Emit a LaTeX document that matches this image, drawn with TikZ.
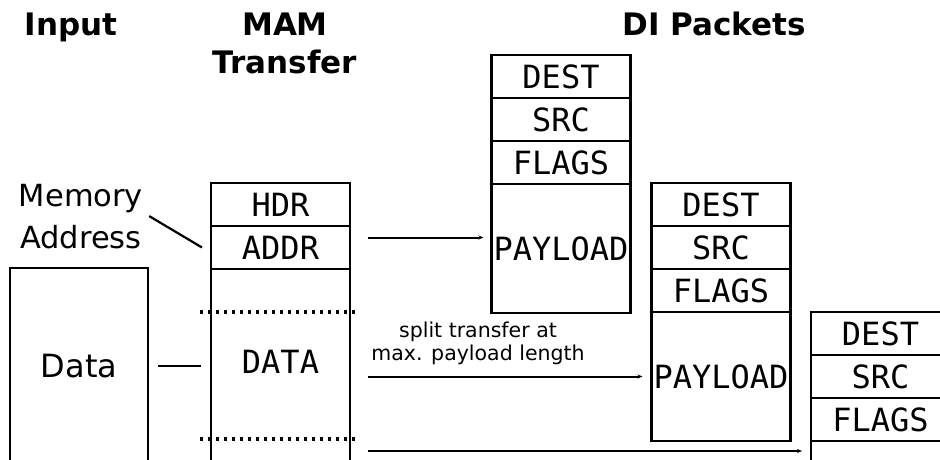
\documentclass[tikz,border=0pt]{standalone}
\usepackage{fontspec}
\setmainfont{DejaVu Sans}
\newfontfamily\monof{DejaVu Sans Mono}
\usetikzlibrary{arrows.meta,positioning,calc}
\begin{document}
\begin{tikzpicture}[x=1pt,y=-1pt,
  line/.style={line width=2.2pt},
  arr/.style={line width=2pt,-{Stealth[length=5pt,width=4pt]}},
  cell/.style={draw,line width=2.2pt,minimum width=139pt,minimum height=43pt,inner sep=0pt,outer sep=0pt,font=\monof\fontsize{32}{37}\selectfont},
  hdr/.style={font=\bfseries\fontsize{31}{38}\selectfont,align=center,inner sep=0pt,anchor=base},
  lbl/.style={font=\fontsize{30.5}{42}\selectfont,align=center,inner sep=0pt},
  small/.style={font=\fontsize{20.5}{22.5}\selectfont,align=center,inner sep=0pt,anchor=base},
  dotline/.style={line width=3.5pt,dash pattern=on 3pt off 5pt}]
\clip (0,0) rectangle (940,459);
% headers
\node[hdr] (hin) at (71,35) {Input};
\node[hdr] (hmam) at (285,73) {MAM\\Transfer};
\node[hdr] (hdi) at (714,35) {DI Packets};
% input
\node[lbl,anchor=base] (memtxt) at (81,248) {Memory\\Address};
\node[draw,line,lbl,font=\fontsize{32}{40}\selectfont,minimum width=138pt,minimum height=196pt,inner sep=0pt,outer sep=0pt] (datain) at (79,366) {Data};
% MAM transfer
\node[cell] (hdrc) at (280.5,204.5) {HDR};
\node[cell,below=0pt of hdrc] (addr) {ADDR};
\node[draw,line,minimum width=139pt,minimum height=200pt,inner sep=0pt,outer sep=0pt,anchor=north] (mamcol) at (addr.south) {};
\node[font=\monof\fontsize{32}{37}\selectfont,inner sep=0pt] (datatxt) at (280.5,362) {DATA};
\draw[dotline] ($(mamcol.north west)+(-11pt,-43pt)$) -- ($(mamcol.north east)+(8pt,-43pt)$);
\draw[dotline] ($(mamcol.north west)+(-11pt,-170pt)$) -- ($(mamcol.north east)+(8pt,-170pt)$);
% packets
\node[cell] (dest1) at (561,76.5) {DEST};
\node[cell,below=0pt of dest1] (src1) {SRC};
\node[cell,below=0pt of src1] (flags1) {FLAGS};
\node[cell,below=0pt of flags1,minimum height=129pt] (pay1) {PAYLOAD};
\node[cell] (dest2) at (721,204.5) {DEST};
\node[cell,below=0pt of dest2] (src2) {SRC};
\node[cell,below=0pt of src2] (flags2) {FLAGS};
\node[cell,below=0pt of flags2,minimum height=129pt] (pay2) {PAYLOAD};
\node[cell] (dest3) at (880.5,333.5) {DEST};
\node[cell,below=0pt of dest3] (src3) {SRC};
\node[cell,below=0pt of src3] (flags3) {FLAGS};
\node[cell,below=0pt of flags3,minimum height=129pt] (pay3) {};
% connectors
\draw[line] ([xshift=6pt]memtxt.east) -- ([xshift=-9pt]addr.west);
\draw[line] ($(datain.east)+(10pt,0)$) -- ($(datain.east -| mamcol.west)+(-10pt,0)$);
\draw[arr] ($(addr.east)+(18pt,10pt)$) -- ($(addr.east -| pay1.west)+(-8pt,10pt)$);
\draw[arr] ($(mamcol.east |- pay2.west)+(18pt,0)$) -- ($(pay2.west)+(-9pt,0)$);
\draw[arr] ($(mamcol.east |- pay3.north west)+(18pt,-10pt)$) -- ($(pay3.north west)+(-9pt,-10pt)$);
\node[small] (split) at (478,360) {split transfer at\\max. payload length};
\end{tikzpicture}
\end{document}
